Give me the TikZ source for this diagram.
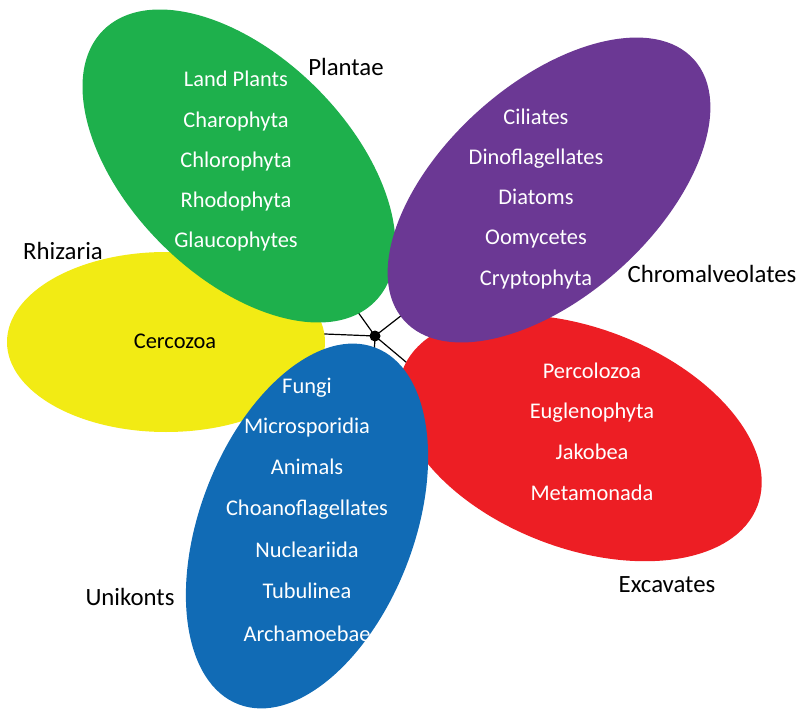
\documentclass[tikz,border=0pt]{standalone}
\usepackage{fontspec}
\setmainfont{Carlito}
\usetikzlibrary{shapes.geometric,backgrounds}
\definecolor{cgreen}{RGB}{30,176,76}
\definecolor{cpurple}{RGB}{107,56,148}
\definecolor{cred}{RGB}{237,30,36}
\definecolor{cblue}{RGB}{17,107,181}
\definecolor{cyellow}{RGB}{242,235,20}
\tikzset{
  petal/.style={ellipse, inner sep=0pt, draw=none},
  intext/.style={font=\fontsize{22.4}{26}\selectfont, text=white, anchor=base, inner sep=0pt},
  grouplabel/.style={font=\fontsize{24.8}{28}\selectfont, text=black, anchor=base, inner sep=0pt},
  branch/.style={draw=black, line width=1.2pt},
  hub/.style={circle, fill=black, inner sep=0pt, minimum size=11pt}
}
\begin{document}
\begin{tikzpicture}[x=1pt,y=-1pt]
\useasboundingbox (0,0) rectangle (800,711);
% petals
\node[petal, fill=cyellow, minimum width=318pt, minimum height=180pt] (yellow) at (166,342) {};
\node[petal, fill=cgreen, minimum width=384pt, minimum height=220pt, rotate=-45] (green) at (239,166) {};
\node[petal, fill=cred, minimum width=380pt, minimum height=220pt, rotate=-21] (red) at (580,438) {};
\node[petal, fill=cblue, minimum width=382pt, minimum height=214pt, rotate=69] (blue) at (307,526) {};
\node[petal, fill=cpurple, minimum width=390pt, minimum height=212pt, rotate=42] (purple) at (549,190) {};
% hub and branches
\node[hub] (hub) at (375,336) {};
\coordinate (greenj) at (345,294);
\coordinate (yellowj) at (300,333);
\coordinate (purplej) at (429,294);
\coordinate (redj) at (425,378);
\coordinate (bluej) at (373,380);
\begin{pgfonlayer}{background}
\draw[branch] (hub.center) -- (greenj);
\draw[branch] (hub.center) -- (yellowj);
\draw[branch] (hub.center) -- (purplej);
\draw[branch] (hub.center) -- (redj);
\draw[branch] (hub.center) -- (bluej);
\end{pgfonlayer}
% Plantae
\node[intext] (g1) at (236,87) {Land Plants};
\node[intext] (g2) at (236,128) {Charophyta};
\node[intext] (g3) at (236,168) {Chlorophyta};
\node[intext] (g4) at (236,208) {Rhodophyta};
\node[intext] (g5) at (236,248) {Glaucophytes};
% Chromalveolates
\node[intext] (p1) at (536,125) {Ciliates};
\node[intext] (p2) at (536,165) {Dinoflagellates};
\node[intext] (p3) at (536,205) {Diatoms};
\node[intext] (p4) at (536,245) {Oomycetes};
\node[intext] (p5) at (536,285) {Cryptophyta};
% Excavates
\node[intext] (r1) at (592,378) {Percolozoa};
\node[intext] (r2) at (592,418) {Euglenophyta};
\node[intext] (r3) at (592,459) {Jakobea};
\node[intext] (r4) at (592,500) {Metamonada};
% Unikonts
\node[intext] (b1) at (307,393) {Fungi};
\node[intext] (b2) at (307,433) {Microsporidia};
\node[intext] (b3) at (307,474) {Animals};
\node[intext] (b4) at (307,515) {Choanoflagellates};
\node[intext] (b5) at (307,557) {Nucleariida};
\node[intext] (b6) at (307,598) {Tubulinea};
\node[intext] (b7) at (307,641) {Archamoebae};
% Rhizaria
\node[intext, text=black] (y1) at (175,348) {Cercozoa};
% group labels
\node[grouplabel] (lplantae) at (346,76) {Plantae};
\node[grouplabel] (lrhiz) at (63,260) {Rhizaria};
\node[grouplabel] (lchrom) at (712,283) {Chromalveolates};
\node[grouplabel] (lexc) at (667,592) {Excavates};
\node[grouplabel] (luni) at (130,605) {Unikonts};
\end{tikzpicture}
\end{document}
